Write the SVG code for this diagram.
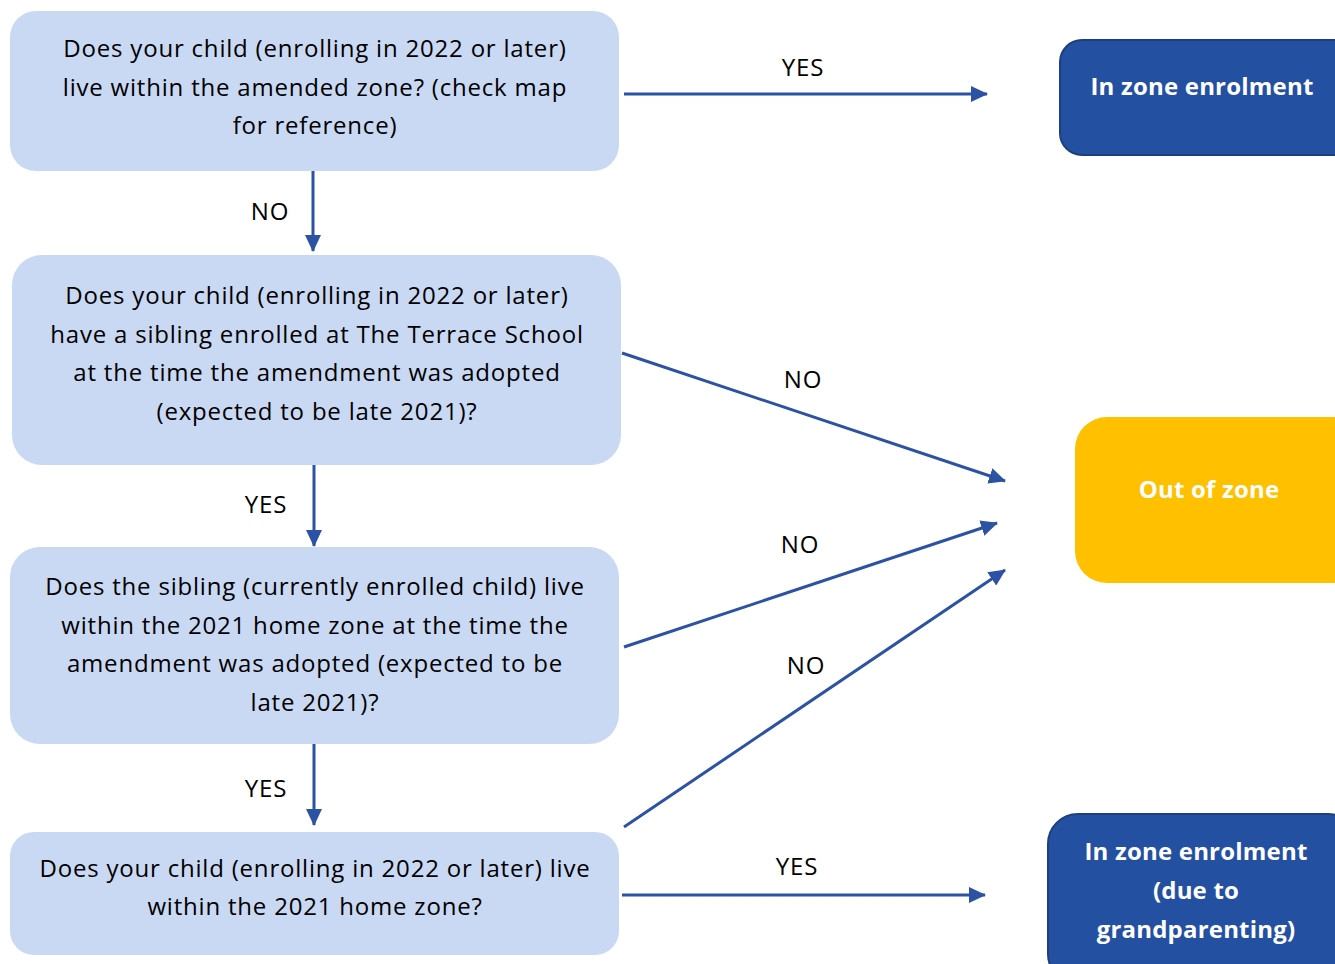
<svg xmlns="http://www.w3.org/2000/svg" width="1335" height="964" viewBox="0 0 1335 964">
<style>
.q{fill:#CAD9F3;}
.t{font-family:"Open Sans","Noto Sans","Liberation Sans",sans-serif;font-size:24px;letter-spacing:0.8px;fill:#000;text-anchor:middle;}
.w{font-family:"Open Sans","Noto Sans","Liberation Sans",sans-serif;font-size:24px;letter-spacing:0.2px;font-weight:bold;fill:#fff;text-anchor:middle;}
.b{fill:#2450A1;stroke:#1E3F7E;stroke-width:2;}
.y{fill:#FFC000;}
.c{stroke:#2B52A3;stroke-width:3;fill:none;marker-end:url(#ah);}
</style>
<defs>
<marker id="ah" markerUnits="userSpaceOnUse" markerWidth="18" markerHeight="16" refX="16" refY="8" orient="auto">
<path d="M0,0 L17,8 L0,16 Z" fill="#2B52A3"/>
</marker>
</defs>
<g id="connectors">
<line class="c" x1="624" y1="94" x2="987" y2="94"/>
<line class="c" x1="313" y1="171" x2="313" y2="251"/>
<line class="c" x1="622" y1="353" x2="1005" y2="481"/>
<line class="c" x1="314" y1="465" x2="314" y2="546"/>
<line class="c" x1="624" y1="647" x2="997" y2="523"/>
<line class="c" x1="314" y1="744" x2="314" y2="825"/>
<line class="c" x1="624" y1="827" x2="1005" y2="570"/>
<line class="c" x1="622" y1="895" x2="985" y2="895"/>
<text class="t" x="803" y="76">YES</text>
<text class="t" x="270" y="220">NO</text>
<text class="t" x="803" y="388">NO</text>
<text class="t" x="266" y="513">YES</text>
<text class="t" x="800" y="553">NO</text>
<text class="t" x="806" y="674">NO</text>
<text class="t" x="266" y="797">YES</text>
<text class="t" x="797" y="875">YES</text>
</g>
<g id="q1">
<rect class="q" x="10" y="11" width="609" height="160" rx="26"/>
<text class="t" x="315" y="57">Does your child (enrolling in 2022 or later)</text>
<text class="t" x="315" y="96">live within the amended zone? (check map</text>
<text class="t" x="315" y="134">for reference)</text>
</g>
<g id="q2">
<rect class="q" x="12" y="255" width="609" height="210" rx="30"/>
<text class="t" x="317" y="304">Does your child (enrolling in 2022 or later)</text>
<text class="t" x="317" y="343">have a sibling enrolled at The Terrace School</text>
<text class="t" x="317" y="381">at the time the amendment was adopted</text>
<text class="t" x="317" y="420">(expected to be late 2021)?</text>
</g>
<g id="q3">
<rect class="q" x="10" y="547" width="609" height="197" rx="30"/>
<text class="t" x="315" y="595">Does the sibling (currently enrolled child) live</text>
<text class="t" x="315" y="634">within the 2021 home zone at the time the</text>
<text class="t" x="315" y="672">amendment was adopted (expected to be</text>
<text class="t" x="315" y="711">late 2021)?</text>
</g>
<g id="q4">
<rect class="q" x="10" y="832" width="609" height="123" rx="24"/>
<text class="t" x="315" y="877">Does your child (enrolling in 2022 or later) live</text>
<text class="t" x="315" y="915">within the 2021 home zone?</text>
</g>
<g id="inzone">
<rect class="b" x="1060" y="40" width="300" height="115" rx="22"/>
<text class="w" x="1202" y="95">In zone enrolment</text>
</g>
<g id="outzone">
<rect class="y" x="1075" y="417" width="290" height="166" rx="32"/>
<text class="w" x="1209" y="498">Out of zone</text>
</g>
<g id="grand">
<rect class="b" x="1048" y="814" width="310" height="170" rx="30"/>
<text class="w" x="1196" y="860">In zone enrolment</text>
<text class="w" x="1196" y="899">(due to</text>
<text class="w" x="1196" y="938">grandparenting)</text>
</g>
</svg>
